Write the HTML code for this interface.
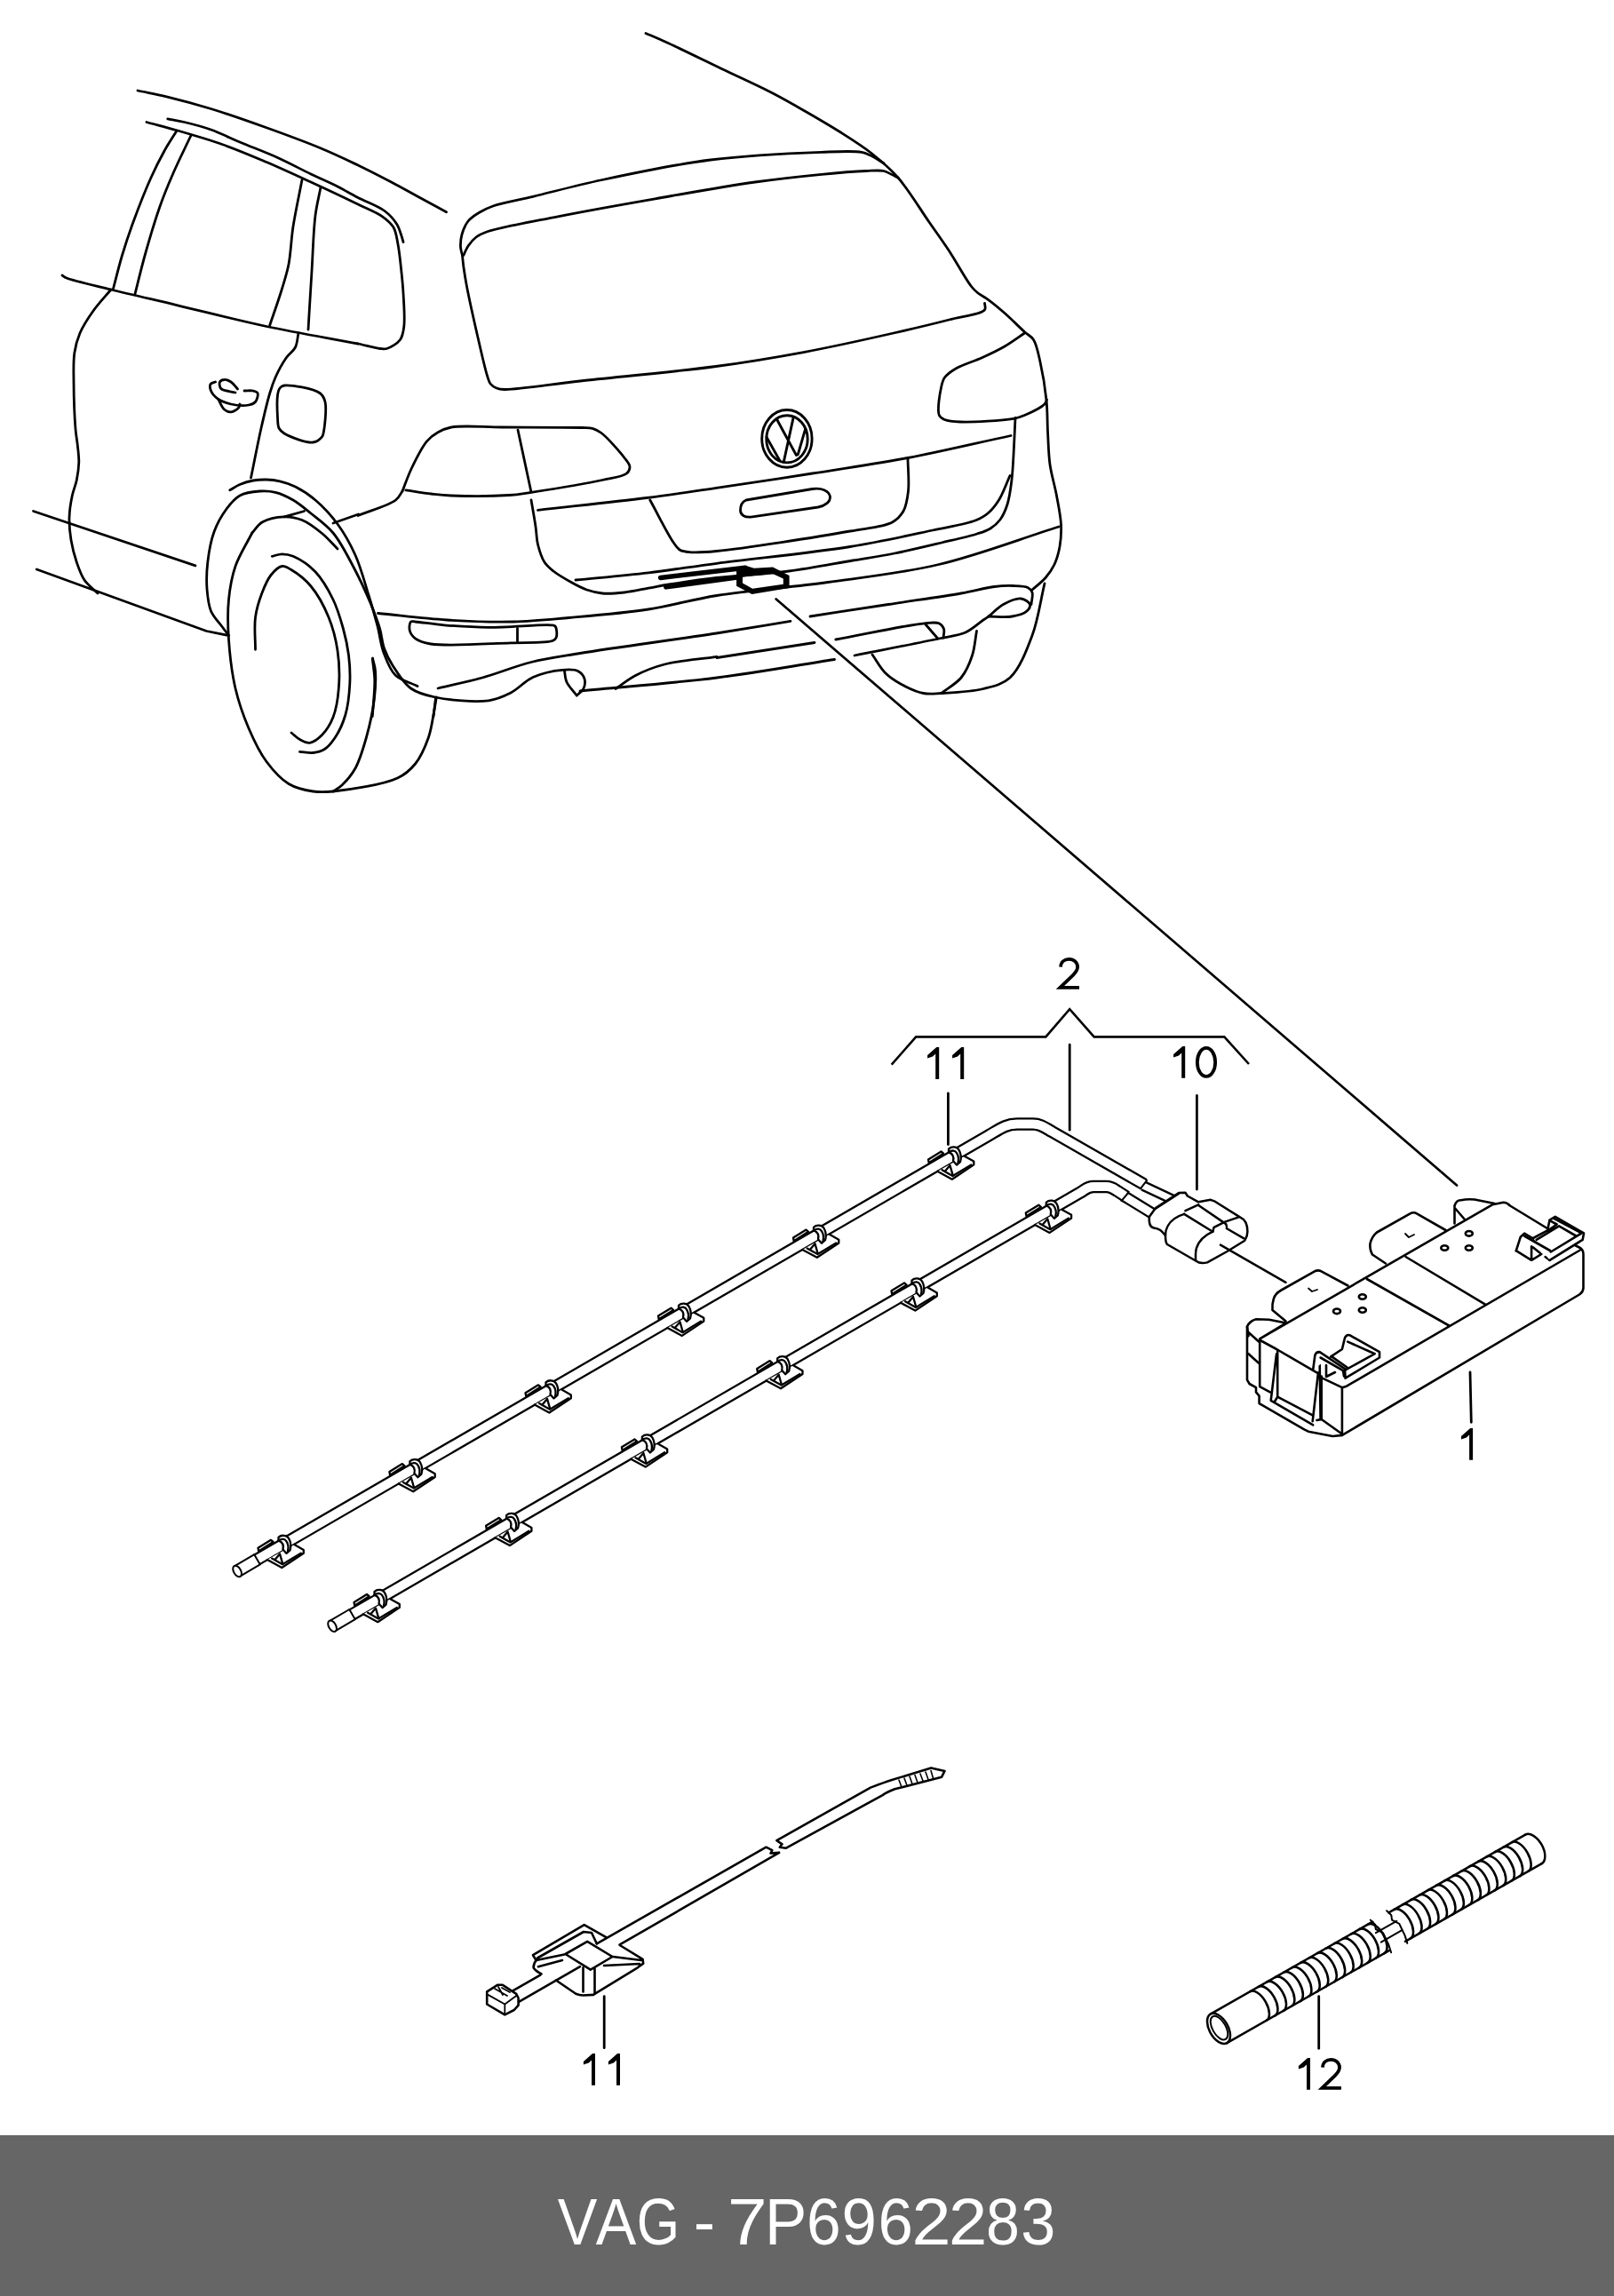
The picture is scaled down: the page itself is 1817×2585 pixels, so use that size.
<!DOCTYPE html>
<html><head><meta charset="utf-8">
<style>
html,body{margin:0;padding:0;background:#fff;}
body{width:1817px;height:2585px;position:relative;overflow:hidden;}
svg{position:absolute;left:0;top:0;}
</style></head><body>
<svg width="1817" height="2585" viewBox="0 0 1817 2585">
<g fill="none" stroke="#000" stroke-linecap="round" stroke-linejoin="round">
<path d="M155.0,102.0C165.8,104.3 175.6,105.9 187.5,108.8C202.4,112.4 220.0,117.1 237.5,122.5C257.3,128.6 279.2,136.3 300.0,143.8C320.9,151.3 344.0,159.8 362.5,167.5C377.6,173.8 389.8,179.7 403.0,186.0C415.8,192.2 429.0,199.0 440.5,205.0C450.4,210.2 458.3,214.7 468.0,220.0C478.8,225.9 491.0,232.5 502.5,238.8" stroke-width="2.8" fill="none"/>
<path d="M188.8,133.8C195.0,135.0 200.6,135.8 207.5,137.5C216.4,139.6 227.4,142.4 237.5,146.0C248.2,149.8 258.4,155.1 270.0,160.0C283.2,165.6 298.9,171.3 312.5,177.5C325.5,183.4 338.2,190.3 350.0,196.0C360.5,201.1 370.7,205.3 380.0,210.0C388.2,214.2 394.8,218.2 403.0,222.5C412.3,227.3 425.3,231.7 433.0,237.5C439.0,242.0 443.6,247.4 446.8,252.5C449.4,256.6 450.5,261.3 451.8,265.0C452.8,267.8 453.3,270.0 454.0,272.5" stroke-width="2.8" fill="none"/>
<path d="M165.0,137.5C176.7,140.7 187.3,143.3 200.0,147.0C215.2,151.4 233.4,156.6 250.0,162.5C266.8,168.4 283.4,175.5 300.0,182.5C316.7,189.6 333.1,197.2 350.0,205.0C367.4,213.0 388.2,222.8 403.0,230.0C413.7,235.2 423.4,238.7 430.5,243.8C435.8,247.6 440.1,251.0 443.0,256.0C446.1,261.3 446.6,267.9 448.0,275.0C449.7,283.8 450.8,295.4 451.8,305.0C452.7,313.7 453.5,320.8 454.0,330.0C454.6,341.2 456.0,357.9 454.8,367.5C454.0,373.7 453.5,378.4 450.5,382.5C447.3,386.9 439.8,391.2 435.5,392.5C432.7,393.3 431.2,392.8 428.0,392.5C422.1,391.9 411.3,388.8 403.0,387.0" stroke-width="2.8" fill="none"/>
<path d="M70.0,310.0C71.7,311.0 72.3,311.9 75.0,313.0C82.9,316.3 106.6,321.4 125.0,326.0C147.4,331.6 173.2,337.4 200.0,343.8C230.9,351.1 266.3,360.3 300.0,367.5C334.0,374.7 368.7,380.5 403.0,387.0" stroke-width="2.8" fill="none"/>
<path d="M198.8,147.5C194.2,155.0 189.5,161.9 185.0,170.0C179.9,179.2 175.1,188.6 170.0,200.0C163.5,214.4 155.7,234.5 150.0,250.0C145.1,263.3 141.3,274.9 137.5,287.5C133.8,299.9 130.8,312.5 127.5,325.0" stroke-width="2.8" fill="none"/>
<path d="M215.0,152.5C208.3,166.7 201.0,181.2 195.0,195.0C189.4,207.8 184.8,218.8 180.0,232.5C174.4,248.4 168.6,268.0 163.8,285.0C159.3,300.8 155.9,315.7 152.0,331.0" stroke-width="2.8" fill="none"/>
<path d="M340.0,202.5C336.7,220.0 332.6,238.4 330.0,255.0C327.7,269.9 327.4,284.9 325.0,297.5C323.0,307.7 320.5,315.0 317.5,325.0C313.8,337.4 308.4,352.3 303.8,366.0" stroke-width="2.8" fill="none"/>
<path d="M361.0,211.0C359.0,221.5 356.6,230.2 355.0,242.5C352.8,259.7 352.3,283.9 351.0,305.0C349.6,326.7 348.3,349.0 347.0,371.0" stroke-width="2.8" fill="none"/>
<path d="M125.0,326.0C118.3,334.0 110.9,341.7 105.0,350.0C99.3,358.0 93.6,366.6 90.0,375.0C86.8,382.5 85.0,389.2 83.8,397.5C82.4,407.3 82.9,417.9 83.0,430.0C83.1,445.5 83.9,469.6 85.0,483.0C85.7,491.3 86.9,496.5 87.5,503.0C88.1,509.0 89.0,514.5 88.8,520.5C88.6,527.0 87.6,534.1 86.3,540.5C85.1,546.6 82.6,551.6 81.3,558.0C79.7,565.5 78.2,574.7 78.0,583.0C77.8,591.3 78.6,599.7 80.0,608.0C81.4,616.4 83.7,625.2 86.3,633.0C88.7,640.1 91.0,647.1 95.0,653.0C98.9,658.8 105.0,663.0 110.0,668.0" stroke-width="2.8" fill="none"/>
<path d="M336.0,375.0C334.8,380.3 334.8,386.4 332.5,391.0C330.3,395.5 325.8,397.8 322.5,402.5C318.2,408.6 313.2,417.8 310.0,425.0C307.3,431.1 305.9,435.4 303.8,442.5C300.6,453.1 297.1,468.4 293.8,483.0C290.0,499.9 286.3,519.7 282.5,538.0" stroke-width="2.8" fill="none"/>
<path d="M242.5,430.0C240.7,430.8 237.9,431.0 237.0,432.5C236.0,434.2 236.5,437.6 237.5,440.0C238.7,443.0 241.7,446.4 245.0,448.8C248.9,451.6 254.5,453.8 260.0,455.0C266.1,456.4 275.0,457.0 280.0,456.0C283.2,455.4 285.8,454.5 287.5,452.5C289.4,450.2 290.9,444.6 290.0,442.5C289.3,441.0 287.0,440.5 285.0,440.0C282.3,439.4 278.3,440.0 275.0,440.0" stroke-width="2.8" fill="none"/>
<path d="M267.5,438.0C265.0,435.3 262.7,431.8 260.0,430.0C257.7,428.5 254.7,427.3 252.5,427.5C250.6,427.6 248.2,428.6 247.5,430.0C246.7,431.7 247.1,435.6 248.8,437.5C251.4,440.3 259.6,440.5 265.0,442.0" stroke-width="2.8" fill="none"/>
<path d="M246.0,450.0C248.2,453.7 249.8,458.7 252.5,461.0C254.7,462.8 257.4,464.0 260.0,463.8C262.9,463.6 267.3,460.7 268.8,458.8C269.8,457.6 269.6,456.3 270.0,455.0" stroke-width="2.8" fill="none"/>
<path d="M320.0,434.0C326.9,432.9 352.9,437.4 360.0,442.5C363.8,445.2 364.9,447.9 366.0,452.5C368.0,460.5 365.3,482.2 364.0,488.0C363.6,490.0 363.5,490.6 362.5,491.8C360.7,493.9 357.0,497.4 352.5,498.0C344.9,499.0 326.3,491.8 320.0,488.0C316.9,486.1 315.3,484.6 314.0,482.0C312.5,478.9 312.8,474.7 312.5,470.0C312.1,463.2 311.6,451.0 312.5,445.0C313.0,441.5 313.5,438.9 315.0,437.0C316.2,435.4 317.4,434.4 320.0,434.0Z" stroke-width="2.8" fill="none"/>
<path d="M37.5,575.5 L220.0,636.8" stroke-width="2.8" fill="none"/>
<path d="M41.3,641.0 L232.5,710.5 L257.5,715.5" stroke-width="2.8" fill="none"/>
<path d="M258.8,551.8C262.5,549.7 265.9,547.2 270.0,545.5C274.5,543.6 279.9,541.9 285.0,541.0C289.9,540.1 295.0,539.9 300.0,540.0C305.0,540.1 309.9,540.6 315.0,541.8C320.7,543.1 326.5,545.0 332.5,548.0C339.7,551.6 347.7,556.7 355.0,563.0C363.6,570.3 372.6,580.0 380.0,590.0C387.7,600.5 394.3,612.3 400.0,625.0C406.2,638.8 410.6,655.9 415.0,670.0C418.8,682.4 422.1,693.7 425.0,705.0C427.7,715.4 428.5,725.7 432.0,735.0C435.3,743.9 438.6,753.7 445.0,760.0C451.3,766.2 461.7,768.3 470.0,772.5" stroke-width="2.8" fill="none"/>
<path d="M257.5,715.5C255.0,712.2 252.8,709.3 250.0,705.5C246.3,700.5 240.3,694.7 237.5,688.0C234.4,680.7 233.7,671.7 233.0,663.0C232.3,653.5 232.6,643.3 233.8,633.0C235.1,621.7 237.4,608.4 241.3,598.0C244.8,588.7 249.8,580.0 255.0,573.0C259.5,567.0 263.9,561.3 270.0,558.0C276.3,554.5 285.4,553.5 292.5,553.0C298.7,552.6 304.1,552.8 310.0,554.3C316.6,555.9 323.5,559.2 330.0,563.0C336.9,567.0 343.1,572.4 350.0,578.0C358.0,584.5 367.5,591.0 375.0,600.0C383.6,610.3 390.5,624.4 397.5,637.5C404.7,651.0 412.2,667.3 417.5,680.0C421.7,690.1 424.9,698.7 427.5,707.5C429.8,715.3 430.0,722.9 432.5,730.0C435.0,737.0 438.1,743.2 442.5,750.0C447.7,758.1 454.3,769.1 462.5,775.0C470.3,780.6 478.9,782.7 490.0,785.0C506.0,788.3 534.5,790.9 550.0,788.8C560.3,787.4 566.9,784.1 575.0,780.0C583.6,775.6 590.7,766.8 600.0,762.5C609.9,758.0 623.7,755.1 633.0,754.3C639.7,753.7 646.2,753.3 650.5,755.5C654.0,757.3 657.0,760.9 658.0,764.3C659.0,767.6 658.3,772.4 656.8,775.5C655.3,778.6 651.8,780.5 649.3,783.0" stroke-width="2.8" fill="none"/>
<path d="M635.5,755.5C636.3,759.7 636.1,763.9 638.0,768.0C640.3,773.0 645.5,778.0 649.3,783.0" stroke-width="2.8" fill="none"/>
<path d="M283.8,600.0C287.5,596.0 290.0,591.0 295.0,588.0C301.3,584.3 312.1,582.0 320.0,581.8C327.0,581.6 333.4,582.8 340.0,585.5C347.6,588.6 355.7,594.9 362.5,600.5C369.0,605.8 374.2,612.2 380.0,618.0" stroke-width="2.8" fill="none"/>
<path d="M283.8,600.0C277.5,612.5 269.4,624.7 265.0,637.5C260.8,649.7 258.8,661.9 257.5,675.0C256.1,689.3 256.4,704.3 257.5,720.0C258.7,737.5 261.0,757.8 265.0,775.0C268.7,790.9 274.0,805.9 280.0,820.0C285.7,833.3 292.0,846.8 300.0,857.5C307.3,867.3 315.7,876.9 325.0,882.5C333.4,887.6 343.7,889.7 352.5,891.0C360.3,892.2 365.4,892.0 375.0,891.0C392.4,889.2 431.4,883.6 447.5,876.0C457.0,871.6 461.9,866.9 467.5,860.0C473.9,852.1 478.9,840.2 482.5,830.0C485.9,820.2 487.2,808.3 488.8,800.0C489.9,794.2 490.5,790.0 491.3,785.0" stroke-width="2.8" fill="none"/>
<path d="M320.0,581.8 L342.5,575.5" stroke-width="2.8" fill="none"/>
<path d="M375.0,589.0 L403.5,579.0" stroke-width="2.8" fill="none"/>
<path d="M375.0,891.0C378.3,888.7 381.6,887.2 385.0,884.0C389.8,879.4 395.7,872.7 400.0,865.0C405.3,855.4 409.0,842.4 412.5,830.0C416.2,816.6 419.7,800.8 421.3,787.5C422.7,776.0 423.2,763.5 422.5,755.0C422.0,749.3 420.5,745.7 419.5,741.0" stroke-width="2.8" fill="none"/>
<path d="M306.3,626.3C310.0,625.5 313.7,623.8 317.5,623.8C321.5,623.8 325.4,624.3 330.0,626.3C337.2,629.4 347.8,636.3 355.0,643.8C363.0,652.1 369.7,664.2 375.0,675.0C380.1,685.4 383.3,696.8 386.3,707.5C389.1,717.6 391.2,727.2 392.5,737.5C393.8,748.1 394.4,759.0 393.8,770.0C393.2,781.5 391.9,794.5 388.8,805.0C386.1,814.2 382.0,823.2 377.5,830.0C373.8,835.6 369.6,840.9 365.0,843.8C361.1,846.2 356.9,847.0 352.5,847.5C347.8,848.0 342.5,846.7 337.5,846.3" stroke-width="2.8" fill="none"/>
<path d="M287.5,731.3C287.5,719.2 286.0,706.2 287.5,695.0C288.8,685.1 291.8,675.8 295.0,667.5C297.8,660.2 300.8,652.7 305.0,647.5C308.5,643.1 313.4,638.1 317.5,637.5C320.9,637.0 323.7,639.1 327.5,641.3C333.8,645.0 343.3,652.1 350.0,660.0C357.8,669.3 365.0,682.8 370.0,695.0C374.9,707.0 378.1,719.5 380.0,732.5C382.0,746.1 382.4,761.8 381.3,775.0C380.4,786.6 378.6,798.3 375.0,807.5C371.9,815.3 367.4,822.5 362.5,827.5C358.4,831.6 353.3,835.7 348.8,836.3C345.0,836.8 341.0,834.4 337.5,832.5C334.0,830.6 331.2,827.5 328.0,825.0" stroke-width="2.8" fill="none"/>
<path d="M727.0,37.5C734.7,40.8 740.5,43.2 750.0,47.5C765.8,54.7 792.1,67.7 812.5,77.5C832.1,86.9 853.2,96.3 870.0,105.0C883.5,112.0 893.7,117.9 906.0,125.0C919.0,132.5 933.2,140.7 946.0,148.8C958.2,156.5 970.1,163.9 981.0,172.5C991.7,181.0 1001.2,188.8 1011.0,200.0C1023.0,213.7 1035.6,235.1 1046.0,250.0C1054.3,262.0 1060.9,271.0 1068.5,282.5C1076.8,295.1 1087.2,314.6 1093.5,322.5C1096.5,326.2 1098.2,327.7 1101.0,330.0C1104.0,332.4 1107.2,333.6 1111.0,336.3C1116.6,340.3 1124.3,346.6 1131.0,352.5C1138.4,359.0 1147.5,368.3 1153.5,373.8C1157.5,377.4 1160.8,378.3 1163.5,382.5C1167.3,388.3 1168.8,398.0 1171.0,407.5C1173.8,419.8 1176.6,436.9 1178.0,450.5C1179.3,462.7 1178.9,473.6 1179.5,485.5C1180.2,497.8 1180.3,510.8 1182.0,523.0C1183.7,534.9 1187.4,546.5 1189.5,558.0C1191.5,569.0 1194.0,580.4 1194.5,590.5C1194.9,599.4 1194.4,607.7 1193.0,615.5C1191.7,622.6 1189.8,629.5 1187.0,635.5C1184.4,641.1 1181.0,645.9 1177.0,650.5C1172.8,655.4 1167.0,659.5 1162.0,664.0" stroke-width="2.8" fill="none"/>
<path d="M995.0,183.8C990.0,180.9 984.6,177.2 980.0,175.0C976.4,173.3 974.6,172.1 970.0,171.3C960.5,169.6 943.7,170.6 925.0,171.3C893.7,172.4 841.3,174.8 800.0,180.0C758.9,185.2 714.0,194.8 678.0,202.5C649.0,208.7 622.5,215.9 600.0,221.3C583.0,225.4 565.8,228.2 555.0,232.0C548.5,234.3 544.7,236.2 540.0,239.0C535.3,241.8 530.3,244.8 527.0,249.0C523.7,253.2 521.4,259.0 520.0,264.0C518.7,268.6 518.3,273.8 518.5,278.0C518.7,281.5 519.8,284.3 520.5,287.5" stroke-width="2.8" fill="none"/>
<path d="M1011.0,200.0C1008.5,198.8 1006.1,197.5 1003.5,196.3C1000.8,195.0 998.5,193.3 995.0,192.5C989.8,191.4 983.2,192.2 975.0,192.5C962.1,193.0 943.3,194.5 925.0,196.3C902.5,198.5 877.5,201.1 850.0,205.0C816.2,209.8 774.7,217.3 737.5,223.8C700.7,230.2 661.6,237.1 628.0,243.8C599.2,249.5 562.7,255.8 548.0,261.0C542.0,263.1 539.5,264.3 536.0,267.0C532.5,269.7 529.4,273.5 527.0,277.0C524.8,280.3 523.5,284.0 521.8,287.5" stroke-width="2.8" fill="none"/>
<path d="M520.5,287.5C520.9,291.7 521.2,295.2 521.8,300.0C522.7,306.4 523.7,313.3 525.5,322.5C528.3,337.3 533.9,362.2 538.0,380.0C541.6,395.4 545.7,414.1 548.5,423.0C549.8,427.2 550.2,429.6 552.0,432.0C553.7,434.2 556.4,435.9 559.0,437.0C561.7,438.1 563.5,438.4 568.0,438.5C581.9,438.9 620.5,432.6 653.0,429.0C696.6,424.2 760.5,418.6 806.0,412.5C842.9,407.5 872.7,402.5 906.0,396.3C939.4,390.0 976.6,381.7 1006.0,375.0C1029.3,369.7 1050.0,364.8 1068.5,360.0C1083.4,356.1 1104.5,354.0 1108.5,348.8C1110.2,346.6 1108.5,343.8 1108.5,341.3" stroke-width="2.8" fill="none"/>
<path d="M453.0,553.0C456.3,544.7 458.9,536.7 463.0,528.0C467.8,518.0 474.4,504.0 480.5,496.8C484.6,492.0 488.4,489.4 493.0,486.8C497.6,484.2 501.2,482.3 508.0,481.0C520.8,478.6 544.2,480.9 565.5,481.0C592.0,481.1 639.0,480.9 655.0,481.5C660.9,481.7 663.3,481.3 667.0,482.3C670.6,483.3 673.2,484.6 677.0,487.5C684.0,492.9 697.6,508.3 703.0,515.5C706.0,519.5 708.8,522.4 709.0,525.5C709.1,528.1 708.0,530.9 705.5,533.0C700.9,536.9 689.6,537.9 678.0,540.5C658.4,544.9 617.1,551.4 598.0,554.3C587.3,555.9 583.3,556.8 573.0,557.5C556.4,558.6 524.0,558.6 508.0,558.0C498.5,557.6 493.4,556.9 485.5,556.0C476.5,554.9 466.4,553.2 456.8,551.8" stroke-width="2.8" fill="none"/>
<path d="M583.0,484.0 L598.0,554.0" stroke-width="2.8" fill="none"/>
<path d="M403.0,580.5C417.2,574.7 437.5,569.2 445.5,563.0C449.7,559.8 450.5,556.3 453.0,553.0" stroke-width="2.8" fill="none"/>
<path d="M598.0,563.0C599.7,573.0 601.7,584.0 603.0,593.0C604.1,600.3 603.9,606.4 605.5,613.0C607.2,619.8 609.6,627.8 613.0,633.0C615.8,637.3 618.9,639.7 623.0,643.0C628.3,647.2 636.5,651.9 643.0,655.5C648.9,658.8 654.5,661.9 660.5,664.0C666.2,666.0 671.6,667.4 678.0,668.0C685.6,668.7 694.5,667.9 703.0,667.0C711.9,666.0 721.4,663.7 730.0,662.1C738.0,660.7 743.7,659.5 753.0,658.0C767.1,655.8 786.8,652.8 806.5,650.5C830.8,647.7 861.7,646.4 888.0,643.0C912.8,639.8 938.6,634.6 960.0,631.0C977.3,628.1 990.9,626.2 1007.0,623.0C1024.2,619.6 1043.6,614.9 1060.0,611.0C1074.3,607.6 1090.0,604.2 1100.0,601.0C1106.3,599.0 1110.6,597.8 1115.0,595.0C1119.2,592.4 1122.9,589.1 1126.0,585.0C1129.4,580.3 1131.9,574.5 1134.0,568.0C1136.6,560.0 1137.8,550.0 1139.0,540.0C1140.4,528.6 1140.8,514.9 1141.5,503.0C1142.1,491.8 1142.5,481.3 1143.0,470.5" stroke-width="2.8" fill="none"/>
<path d="M605.5,574.3C646.3,569.7 691.7,565.1 728.0,560.5C757.1,556.8 778.3,553.4 806.5,549.3C839.6,544.4 878.6,538.6 914.5,533.0C950.4,527.4 985.6,522.4 1022.0,515.5C1060.0,508.3 1099.3,498.8 1138.0,490.5" stroke-width="2.8" fill="none"/>
<path d="M731.8,563.0C740.5,578.8 751.5,601.2 758.0,610.5C761.0,614.8 762.3,617.4 765.5,619.3C768.9,621.3 773.0,621.4 778.0,621.8C785.5,622.4 793.3,621.8 806.5,620.5C837.0,617.5 921.0,604.5 957.0,598.0C977.3,594.3 994.2,593.6 1004.5,588.0C1010.7,584.6 1014.0,580.8 1017.0,575.5C1020.4,569.5 1021.5,561.5 1022.5,553.0C1023.7,542.4 1022.2,528.9 1022.0,516.8" stroke-width="2.8" fill="none"/>
<path d="M648.0,653.0C675.3,650.3 703.1,648.0 730.0,644.8C756.1,641.7 777.1,638.2 807.0,634.3C848.7,628.8 913.1,622.6 957.0,615.5C991.8,609.9 1024.1,602.5 1050.0,597.0C1068.7,593.0 1087.0,590.3 1098.0,586.0C1104.3,583.5 1107.8,581.6 1112.0,578.0C1116.7,574.1 1120.7,569.1 1124.5,563.0C1129.2,555.5 1132.8,544.7 1137.0,535.5" stroke-width="2.8" fill="none"/>
<path d="M1153.5,375.0C1146.0,380.0 1138.8,385.4 1131.0,390.0C1123.0,394.6 1114.8,398.5 1106.0,402.5C1096.5,406.8 1083.6,410.5 1076.0,415.0C1070.7,418.2 1066.2,421.3 1063.5,425.0C1061.3,428.1 1060.8,430.6 1059.8,435.0C1058.1,442.6 1054.8,461.7 1057.3,467.5C1058.5,470.4 1060.7,471.3 1063.5,472.5C1067.7,474.3 1073.4,474.7 1081.0,475.0C1095.0,475.6 1128.5,473.5 1141.0,471.3C1146.8,470.3 1148.8,469.5 1153.5,467.5C1160.0,464.7 1172.4,458.8 1176.0,455.0C1177.7,453.2 1177.7,451.7 1178.5,450.0" stroke-width="2.8" fill="none"/>
<path d="M425.5,690.5C451.3,693.0 477.4,696.4 503.0,698.0C528.2,699.6 554.2,700.5 578.0,700.0C599.8,699.5 617.8,697.5 640.5,695.5C667.7,693.1 701.4,690.4 730.0,686.0C756.7,681.9 778.1,675.1 807.0,670.5C843.5,664.6 890.4,661.3 932.0,655.5C973.7,649.7 1014.9,645.4 1057.0,635.5C1101.5,625.0 1147.0,607.2 1192.0,593.0" stroke-width="2.8" fill="none"/>
<path d="M462.5,700.0C460.9,701.4 460.5,706.9 461.3,710.0C462.1,713.2 464.4,716.5 467.5,718.8C471.6,721.9 476.7,723.6 485.0,725.0C503.2,728.0 549.8,724.6 575.0,723.8C593.3,723.2 615.7,724.3 622.5,721.3C624.8,720.3 625.6,719.3 626.3,717.5C627.3,714.7 626.8,707.0 625.0,705.0C623.9,703.7 622.7,704.1 620.0,703.8C610.2,702.8 571.4,706.5 550.0,706.3C531.9,706.2 514.9,705.0 500.0,703.8C488.0,702.8 473.6,700.4 467.5,700.0C465.1,699.9 463.6,699.0 462.5,700.0Z" stroke-width="2.8" fill="none"/>
<path d="M582.5,707.5 L582.5,722.5" stroke-width="2.8" fill="none"/>
<path d="M493.0,775.0C509.7,771.0 526.0,767.7 543.0,763.0C561.0,758.0 579.5,750.1 598.0,745.5C616.2,741.0 630.0,739.3 653.0,735.5C691.3,729.2 763.1,719.7 806.5,713.0C838.5,708.0 862.1,703.9 889.9,699.3" stroke-width="2.8" fill="none"/>
<path d="M912.0,694.0C941.3,689.5 971.2,684.9 1000.0,680.5C1027.8,676.2 1060.0,671.9 1082.0,668.0C1097.0,665.4 1108.8,661.8 1119.5,660.5C1127.3,659.5 1133.5,659.3 1140.0,659.5C1145.9,659.7 1153.2,659.6 1157.0,661.5C1159.5,662.8 1161.1,664.5 1162.0,667.0C1163.2,670.3 1161.3,676.0 1161.0,680.5" stroke-width="2.8" fill="none"/>
<path d="M1113.0,694.0C1118.5,689.5 1123.4,683.8 1129.5,680.5C1135.6,677.2 1144.1,673.3 1149.5,674.0C1153.6,674.5 1158.7,677.9 1159.5,680.5C1160.1,682.7 1158.2,686.0 1156.0,688.0C1152.8,691.0 1145.8,692.9 1139.5,694.0C1131.8,695.4 1121.8,694.0 1113.0,694.0" stroke-width="2.8" fill="none"/>
<path d="M940.8,720.0C974.1,713.9 1021.6,703.5 1040.8,701.8C1048.5,701.1 1053.3,700.1 1057.0,701.8C1059.7,703.0 1061.6,705.5 1062.5,708.0C1063.5,710.8 1062.2,714.7 1062.0,718.0" stroke-width="2.8" fill="none"/>
<path d="M1042.0,703.0 L1055.8,719.0" stroke-width="2.8" fill="none"/>
<path d="M807.0,740.5 L917.0,723.5" stroke-width="2.8" fill="none"/>
<path d="M693.0,775.5C700.5,770.5 707.0,764.9 715.5,760.5C725.1,755.5 735.3,751.3 748.0,748.0C764.6,743.7 787.3,742.2 807.0,739.3" stroke-width="2.8" fill="none"/>
<path d="M962.0,738.0C993.7,731.7 1034.2,723.9 1057.0,719.0C1069.8,716.2 1078.3,715.9 1087.0,712.0C1094.7,708.6 1101.9,701.5 1107.0,698.0C1110.1,695.9 1112.0,694.7 1114.5,693.0" stroke-width="2.8" fill="none"/>
<path d="M653.0,778.0C704.3,773.0 757.7,769.2 807.0,763.0C852.9,757.2 895.3,749.3 939.5,742.5" stroke-width="2.8" fill="none"/>
<path d="M982.0,737.0C987.0,744.0 990.9,752.0 997.0,758.0C1003.3,764.1 1012.0,769.2 1019.5,773.0C1026.2,776.4 1032.7,779.3 1039.5,780.5C1046.1,781.7 1051.4,780.9 1059.5,780.5C1072.0,779.8 1093.2,779.0 1107.0,775.5C1118.4,772.6 1128.5,770.7 1137.0,763.0C1147.9,753.1 1155.6,732.6 1162.0,715.5C1168.8,697.4 1171.3,676.4 1176.0,656.8" stroke-width="2.8" fill="none"/>
<path d="M1099.5,710.5C1097.8,719.7 1097.4,729.2 1094.5,738.0C1091.6,746.8 1087.8,755.9 1082.0,763.0C1076.2,770.1 1067.0,774.7 1059.5,780.5" stroke-width="2.8" fill="none"/>
<path d="M419.3,741.8C420.1,749.7 421.6,756.5 421.8,765.5C422.1,777.3 420.1,792.8 419.3,806.5" stroke-width="2.8" fill="none"/>
<path d="M490.5,785.5 L488.0,806.5" stroke-width="2.8" fill="none"/>
<path d="M873.7,674.5 L1640.0,1334.5" stroke-width="2.7" fill="none"/>
<path d="M743.6,650.4 L839.0,639.2" stroke-width="5.5" fill="none"/>
<path d="M749.8,660.9 L831.6,649.7" stroke-width="5.5" fill="none"/>
<path d="M840,563 L914.5,550.5 C925,549 933,552.5 934.5,559 C935,565 929,569.5 921,571 L847,581.8 C838.5,583 833.5,580 833.5,574.5 C833.5,569 835.5,565 840,563 Z" stroke-width="2.8"/>
<path d="M829.1,642.9 L839,636.7 L849,639.8 L870,638.6 L888.6,647.9 L888.6,662.1 L846.5,669 L829.1,659.7Z M836,649.7 L868.8,645.4 L881.8,651.6 L881.8,657.8 L847.1,662.8 L836,656.6Z" fill="#000" fill-rule="evenodd" stroke="none"/>
<g stroke-width="2.9"><ellipse cx="885.9" cy="493.9" rx="28.2" ry="32.4"/><ellipse cx="886" cy="494.3" rx="23.2" ry="26.6"/><path d="M874.6,472.2 L896.5,512.6 M893.2,469.9 L882.5,519.1 M863,492.2 L877.9,518.7 M906.7,482.9 L898.3,511.7"/></g>
<path d="M289,1756.1 L1112,1279.0 C1125,1271.5 1132,1265.5 1145,1265.5 L1163,1265.5 C1172,1265.5 1177,1270 1185,1274.5 L1288,1333.5" stroke-width="14.5" stroke-linecap="butt"/><path d="M289,1756.1 L1112,1279.0 C1125,1271.5 1132,1265.5 1145,1265.5 L1163,1265.5 C1172,1265.5 1177,1270 1185,1274.5 L1288,1333.5" stroke="#fff" stroke-width="9.9" stroke-linecap="butt"/>
<path d="M396,1817.9 L1215,1343.3 C1222,1339.2 1224,1336 1231,1336 L1246,1336 C1251,1336 1253,1337.8 1258,1341 L1268,1347.5" stroke-width="14.5" stroke-linecap="butt"/><path d="M396,1817.9 L1215,1343.3 C1222,1339.2 1224,1336 1231,1336 L1246,1336 C1251,1336 1253,1337.8 1258,1341 L1268,1347.5" stroke="#fff" stroke-width="9.9" stroke-linecap="butt"/>
<path d="M1287,1335 L1321,1351" stroke-width="12" stroke-linecap="butt"/><path d="M1287,1335 L1321,1351" stroke="#fff" stroke-width="7.4" stroke-linecap="butt"/>
<path d="M1266,1347 L1310,1374" stroke-width="13.5" stroke-linecap="butt"/><path d="M1266,1347 L1310,1374" stroke="#fff" stroke-width="8.9" stroke-linecap="butt"/>
<path d="M1284.8,1337.2 L1291,1329.1 M1262.5,1352 L1269.9,1343.4" stroke-width="2"/>
<path d="M270.4,1774.6 L292.8,1761.4 L286.3,1750.2 L263.8,1763.4" fill="#fff" stroke-width="2"/>
<ellipse cx="267.1" cy="1769.0" rx="4" ry="6.8" transform="rotate(-30.4 267.1 1769.0)" fill="#fff" stroke-width="2"/>
<path d="M377.4,1836.3 L399.8,1823.2 L393.3,1812.0 L370.8,1825.1" fill="#fff" stroke-width="2"/>
<ellipse cx="374.1" cy="1830.7" rx="4" ry="6.8" transform="rotate(-30.4 374.1 1830.7)" fill="#fff" stroke-width="2"/>
<g transform="translate(319.5,1738.4)" stroke-width="2.3">
<path d="M-18.6,17.7 L-2.2,26.6 L22.3,10.3 L22.3,6.5 L11.9,0.6" fill="#fff"/>
<path d="M-13.4,16.2 L-1.5,22.9 L19.3,10.3"/>
<path d="M-10,17.5 L-4.5,11 L-1.5,21.5"/>
<path d="M-6,-7.5 C-3,-10.5 3,-10.5 5.5,-6.5 C7.5,-3 8.5,2 7,7 L3,10.5 L-1,6 C0,2 -1,-2 -6,-4 Z" fill="#fff"/>
<path d="M-6,-4 C-2,-6.5 1.5,-6 3,-3 C5,0 5.5,4 4.5,8"/>
<path d="M-29,4.3 L-14.5,-4.6 L-11.9,-2.4 L-28.3,8Z"/>
</g>
<g transform="translate(467.4,1652.7)" stroke-width="2.3">
<path d="M-18.6,17.7 L-2.2,26.6 L22.3,10.3 L22.3,6.5 L11.9,0.6" fill="#fff"/>
<path d="M-13.4,16.2 L-1.5,22.9 L19.3,10.3"/>
<path d="M-10,17.5 L-4.5,11 L-1.5,21.5"/>
<path d="M-6,-7.5 C-3,-10.5 3,-10.5 5.5,-6.5 C7.5,-3 8.5,2 7,7 L3,10.5 L-1,6 C0,2 -1,-2 -6,-4 Z" fill="#fff"/>
<path d="M-6,-4 C-2,-6.5 1.5,-6 3,-3 C5,0 5.5,4 4.5,8"/>
<path d="M-29,4.3 L-14.5,-4.6 L-11.9,-2.4 L-28.3,8Z"/>
</g>
<g transform="translate(620.5,1563.9)" stroke-width="2.3">
<path d="M-18.6,17.7 L-2.2,26.6 L22.3,10.3 L22.3,6.5 L11.9,0.6" fill="#fff"/>
<path d="M-13.4,16.2 L-1.5,22.9 L19.3,10.3"/>
<path d="M-10,17.5 L-4.5,11 L-1.5,21.5"/>
<path d="M-6,-7.5 C-3,-10.5 3,-10.5 5.5,-6.5 C7.5,-3 8.5,2 7,7 L3,10.5 L-1,6 C0,2 -1,-2 -6,-4 Z" fill="#fff"/>
<path d="M-6,-4 C-2,-6.5 1.5,-6 3,-3 C5,0 5.5,4 4.5,8"/>
<path d="M-29,4.3 L-14.5,-4.6 L-11.9,-2.4 L-28.3,8Z"/>
</g>
<g transform="translate(770.0,1477.3)" stroke-width="2.3">
<path d="M-18.6,17.7 L-2.2,26.6 L22.3,10.3 L22.3,6.5 L11.9,0.6" fill="#fff"/>
<path d="M-13.4,16.2 L-1.5,22.9 L19.3,10.3"/>
<path d="M-10,17.5 L-4.5,11 L-1.5,21.5"/>
<path d="M-6,-7.5 C-3,-10.5 3,-10.5 5.5,-6.5 C7.5,-3 8.5,2 7,7 L3,10.5 L-1,6 C0,2 -1,-2 -6,-4 Z" fill="#fff"/>
<path d="M-6,-4 C-2,-6.5 1.5,-6 3,-3 C5,0 5.5,4 4.5,8"/>
<path d="M-29,4.3 L-14.5,-4.6 L-11.9,-2.4 L-28.3,8Z"/>
</g>
<g transform="translate(922.0,1389.2)" stroke-width="2.3">
<path d="M-18.6,17.7 L-2.2,26.6 L22.3,10.3 L22.3,6.5 L11.9,0.6" fill="#fff"/>
<path d="M-13.4,16.2 L-1.5,22.9 L19.3,10.3"/>
<path d="M-10,17.5 L-4.5,11 L-1.5,21.5"/>
<path d="M-6,-7.5 C-3,-10.5 3,-10.5 5.5,-6.5 C7.5,-3 8.5,2 7,7 L3,10.5 L-1,6 C0,2 -1,-2 -6,-4 Z" fill="#fff"/>
<path d="M-6,-4 C-2,-6.5 1.5,-6 3,-3 C5,0 5.5,4 4.5,8"/>
<path d="M-29,4.3 L-14.5,-4.6 L-11.9,-2.4 L-28.3,8Z"/>
</g>
<g transform="translate(1074.0,1301.1)" stroke-width="2.3">
<path d="M-18.6,17.7 L-2.2,26.6 L22.3,10.3 L22.3,6.5 L11.9,0.6" fill="#fff"/>
<path d="M-13.4,16.2 L-1.5,22.9 L19.3,10.3"/>
<path d="M-10,17.5 L-4.5,11 L-1.5,21.5"/>
<path d="M-6,-7.5 C-3,-10.5 3,-10.5 5.5,-6.5 C7.5,-3 8.5,2 7,7 L3,10.5 L-1,6 C0,2 -1,-2 -6,-4 Z" fill="#fff"/>
<path d="M-6,-4 C-2,-6.5 1.5,-6 3,-3 C5,0 5.5,4 4.5,8"/>
<path d="M-29,4.3 L-14.5,-4.6 L-11.9,-2.4 L-28.3,8Z"/>
</g>
<g transform="translate(427.5,1799.6)" stroke-width="2.3">
<path d="M-18.6,17.7 L-2.2,26.6 L22.3,10.3 L22.3,6.5 L11.9,0.6" fill="#fff"/>
<path d="M-13.4,16.2 L-1.5,22.9 L19.3,10.3"/>
<path d="M-10,17.5 L-4.5,11 L-1.5,21.5"/>
<path d="M-6,-7.5 C-3,-10.5 3,-10.5 5.5,-6.5 C7.5,-3 8.5,2 7,7 L3,10.5 L-1,6 C0,2 -1,-2 -6,-4 Z" fill="#fff"/>
<path d="M-6,-4 C-2,-6.5 1.5,-6 3,-3 C5,0 5.5,4 4.5,8"/>
<path d="M-29,4.3 L-14.5,-4.6 L-11.9,-2.4 L-28.3,8Z"/>
</g>
<g transform="translate(576.1,1713.5)" stroke-width="2.3">
<path d="M-18.6,17.7 L-2.2,26.6 L22.3,10.3 L22.3,6.5 L11.9,0.6" fill="#fff"/>
<path d="M-13.4,16.2 L-1.5,22.9 L19.3,10.3"/>
<path d="M-10,17.5 L-4.5,11 L-1.5,21.5"/>
<path d="M-6,-7.5 C-3,-10.5 3,-10.5 5.5,-6.5 C7.5,-3 8.5,2 7,7 L3,10.5 L-1,6 C0,2 -1,-2 -6,-4 Z" fill="#fff"/>
<path d="M-6,-4 C-2,-6.5 1.5,-6 3,-3 C5,0 5.5,4 4.5,8"/>
<path d="M-29,4.3 L-14.5,-4.6 L-11.9,-2.4 L-28.3,8Z"/>
</g>
<g transform="translate(728.9,1625.0)" stroke-width="2.3">
<path d="M-18.6,17.7 L-2.2,26.6 L22.3,10.3 L22.3,6.5 L11.9,0.6" fill="#fff"/>
<path d="M-13.4,16.2 L-1.5,22.9 L19.3,10.3"/>
<path d="M-10,17.5 L-4.5,11 L-1.5,21.5"/>
<path d="M-6,-7.5 C-3,-10.5 3,-10.5 5.5,-6.5 C7.5,-3 8.5,2 7,7 L3,10.5 L-1,6 C0,2 -1,-2 -6,-4 Z" fill="#fff"/>
<path d="M-6,-4 C-2,-6.5 1.5,-6 3,-3 C5,0 5.5,4 4.5,8"/>
<path d="M-29,4.3 L-14.5,-4.6 L-11.9,-2.4 L-28.3,8Z"/>
</g>
<g transform="translate(881.2,1536.7)" stroke-width="2.3">
<path d="M-18.6,17.7 L-2.2,26.6 L22.3,10.3 L22.3,6.5 L11.9,0.6" fill="#fff"/>
<path d="M-13.4,16.2 L-1.5,22.9 L19.3,10.3"/>
<path d="M-10,17.5 L-4.5,11 L-1.5,21.5"/>
<path d="M-6,-7.5 C-3,-10.5 3,-10.5 5.5,-6.5 C7.5,-3 8.5,2 7,7 L3,10.5 L-1,6 C0,2 -1,-2 -6,-4 Z" fill="#fff"/>
<path d="M-6,-4 C-2,-6.5 1.5,-6 3,-3 C5,0 5.5,4 4.5,8"/>
<path d="M-29,4.3 L-14.5,-4.6 L-11.9,-2.4 L-28.3,8Z"/>
</g>
<g transform="translate(1032.5,1449.0)" stroke-width="2.3">
<path d="M-18.6,17.7 L-2.2,26.6 L22.3,10.3 L22.3,6.5 L11.9,0.6" fill="#fff"/>
<path d="M-13.4,16.2 L-1.5,22.9 L19.3,10.3"/>
<path d="M-10,17.5 L-4.5,11 L-1.5,21.5"/>
<path d="M-6,-7.5 C-3,-10.5 3,-10.5 5.5,-6.5 C7.5,-3 8.5,2 7,7 L3,10.5 L-1,6 C0,2 -1,-2 -6,-4 Z" fill="#fff"/>
<path d="M-6,-4 C-2,-6.5 1.5,-6 3,-3 C5,0 5.5,4 4.5,8"/>
<path d="M-29,4.3 L-14.5,-4.6 L-11.9,-2.4 L-28.3,8Z"/>
</g>
<g transform="translate(1183.8,1361.3)" stroke-width="2.3">
<path d="M-18.6,17.7 L-2.2,26.6 L22.3,10.3 L22.3,6.5 L11.9,0.6" fill="#fff"/>
<path d="M-13.4,16.2 L-1.5,22.9 L19.3,10.3"/>
<path d="M-10,17.5 L-4.5,11 L-1.5,21.5"/>
<path d="M-6,-7.5 C-3,-10.5 3,-10.5 5.5,-6.5 C7.5,-3 8.5,2 7,7 L3,10.5 L-1,6 C0,2 -1,-2 -6,-4 Z" fill="#fff"/>
<path d="M-6,-4 C-2,-6.5 1.5,-6 3,-3 C5,0 5.5,4 4.5,8"/>
<path d="M-29,4.3 L-14.5,-4.6 L-11.9,-2.4 L-28.3,8Z"/>
</g><g stroke-width="2.5">
<path d="M1327,1343 L1334.4,1342.7 L1336.8,1346.5 L1349.2,1353.3 L1362.9,1350.8 L1367.8,1352.7 L1396.3,1370.6 C1402,1373 1404.4,1380 1404.4,1386.7 C1404.4,1391 1403,1394 1401.3,1396.7 L1381.4,1409 L1359.1,1421.4 C1354,1422.5 1350,1422.5 1347,1420 L1314,1401 C1312,1399 1312,1395 1312,1391 C1308,1386 1305,1383 1299,1382.4 C1295,1382 1293.3,1378 1293.8,1370 L1301,1360 Z" fill="#fff"/>
<path d="M1365.3,1386.7 L1366.6,1381.8 L1379,1375.6 L1393.8,1370.6"/>
<path d="M1333.1,1366.9 L1365.3,1386.7"/>
<path d="M1349.2,1357 L1380.2,1378.1 L1381,1381"/>
<path d="M1334.4,1363.2 L1349.2,1356.4"/>
<path d="M1365.3,1386.7 C1358,1390 1350,1396 1347,1405 C1345.5,1410 1346,1415 1346.1,1419"/>
<path d="M1333.1,1366.9 C1326,1369 1318,1374 1314.5,1380.5 C1312.5,1384 1312,1387 1312,1391"/>
<path d="M1300.9,1360.7 L1326.9,1344"/>
<path d="M1380.8,1383 L1400,1394.2"/>
</g>
<path d="M1374,1401.6 L1447.5,1443.8" stroke-width="2.5"/>
<path d="M1347.4,1233.5 L1347.4,1339" stroke-width="2.8"/>
<path d="M1067.4,1231 L1067.4,1288.5" stroke-width="2.8"/>
<path d="M1204.2,1176.1 L1204.2,1272.2" stroke-width="2.8"/>
<path d="M1003.7,1198.6 L1031.2,1167.4 L1177.3,1167.4 L1204.2,1136.2 L1231.7,1167.4 L1378.3,1167.4 L1406,1198" stroke-width="2.6" stroke-linecap="butt" stroke-linejoin="miter"/>
<g stroke-width="2.6">
<path d="M1447.5,1487.5 L1432.5,1475 C1432,1470 1433,1465 1433.8,1462.5 C1435,1458 1438,1455 1442.5,1452.5 L1480,1431.3 C1483,1430 1485,1430 1487.5,1431.3 L1517.5,1447.5" fill="#fff"/>
<path d="M1473,1450.5 L1477,1454 L1483,1452" stroke-width="1.8"/>
<path d="M1560,1422.5 L1545,1412.5 C1542.5,1408 1542,1404 1542.5,1400 C1544,1394 1547,1390 1550,1387.5 L1587.5,1366.3 C1590,1365 1593,1365 1595,1366.3 L1627.5,1385" fill="#fff"/>
<path d="M1582,1389 L1586,1393 L1592,1390" stroke-width="1.8"/>
<path d="M1637.5,1377.5 L1637.5,1357.5 C1639,1353 1642,1351 1645,1351.3 C1650,1350 1655,1350 1660,1350.5 L1682.5,1355" fill="#fff"/>
<path d="M1638.6,1361 L1649,1373"/>
<path d="M1418.2,1507.4 L1680,1356.3 L1692.5,1353.8 C1696,1353.8 1698,1355.5 1700,1357.5 L1773.1,1402 L1778,1404.5 C1781,1406 1782.5,1408 1782.5,1412 L1782.5,1450 C1782.5,1453 1781,1455.5 1778,1457.5 L1510.9,1615.9 L1500.3,1617 L1472.9,1611.7 L1468.7,1609.6 L1420.3,1581.6 L1417.6,1580.1 L1417.6,1571.6 L1414,1567.4 L1414,1562.2 L1406.6,1558 L1404,1553.7 L1404,1493.7 C1405,1490 1410,1486 1414,1485.3 L1428.7,1485.8 L1447.7,1489.5 Z" fill="#fff"/>
<path d="M1405.5,1500 L1417.1,1510.5 M1405.5,1524.2 L1417.1,1534.8 M1404,1493.7 L1405.5,1504.2"/>
<path d="M1418.2,1508.4 L1418.2,1561.1 L1429.8,1567.4"/>
<path d="M1418.7,1509 L1437.1,1519 L1482.4,1545.3"/>
<path d="M1438.2,1520 L1438.2,1571.6 M1430.8,1575.8 L1437.1,1524.2"/>
<path d="M1435,1578 L1438.2,1572.7 L1477.2,1593.2 M1430.8,1576.9 L1478.2,1604.3"/>
<path d="M1477.7,1600.1 L1484,1545.3 M1485.6,1528.5 L1486.6,1598"/>
<path d="M1510.9,1563.2 L1510.9,1615.9 M1487.7,1549.5 L1487.7,1598 M1482.4,1599 L1487.7,1598 L1509.8,1613.8"/>
<path d="M1486.6,1550.6 L1510.9,1562.2 L1515.1,1561.1 L1778.8,1407.5"/>
<path d="M1538.8,1440 L1631.3,1492.5 M1582.5,1415 L1672.5,1468.8"/>
<path d="M1478.2,1542.1 L1480.3,1526.3 C1481,1523 1483,1522 1485.6,1522.1 L1514,1541.1 L1514.5,1551.6 L1553,1528.5 L1553,1522.1 L1519.3,1503.2 C1517,1502.5 1515,1504 1514,1506.3 L1510.9,1519 L1498.2,1527.4" fill="#fff"/>
<path d="M1517.2,1510.6 L1547.7,1524.2 L1515.1,1542.1 M1486.6,1528.5 L1512,1543.2 L1513,1549.5 M1499.3,1527.4 L1517.2,1540 M1493,1537 L1493,1550 L1503,1545"/>
<path d="M1706.8,1408.2 L1711.7,1392.8 L1716.1,1388.7 L1744.6,1405.5 L1744.6,1418.8 L1739.6,1415" fill="#fff"/>
<path d="M1706.8,1408.2 L1724.1,1418.8 L1735.3,1412 M1724.1,1403.3 L1724.1,1418.8 M1726,1404.5 L1733.8,1410.8"/>
<path d="M1744.6,1418.8 L1781.7,1395.8 L1783,1388.4 L1750.8,1369.8 L1744.6,1373.5 L1742.1,1385.3 L1726,1394" fill="#fff"/>
<path d="M1748.9,1371.7 L1780.5,1388.4 L1745.8,1409.5 M1729.7,1395.8 L1755.1,1380.4 L1774.3,1391.5 M1716,1391.5 L1745,1408 M1744.6,1374.2 L1752.6,1378.5 L1742.1,1385.9"/>
<ellipse cx="1505" cy="1476.3" rx="4" ry="2.8"/><ellipse cx="1533.8" cy="1475" rx="4" ry="2.8"/><ellipse cx="1533.8" cy="1460" rx="4" ry="2.8"/>
<ellipse cx="1626.3" cy="1405" rx="4" ry="2.8"/><ellipse cx="1653.8" cy="1405" rx="4" ry="2.8"/><ellipse cx="1653.8" cy="1388.8" rx="4" ry="2.8"/>
</g>
<path d="M1655,1545 L1656.3,1601.3" stroke-width="2.8"/>
<path d="M1362.7,2267.7 L1545.2,2163.7 M1381.3,2300.1 L1563.7,2196.2" stroke-width="2.5"/>
<path d="M1563.4,2153.3 L1717.2,2065.6 M1581.9,2185.8 L1735.7,2098.1" stroke-width="2.5"/>
<path d="M1548.9,2176.2 L1572.3,2162.8 M1554.8,2186.6 L1578.3,2173.2" stroke-width="2"/>
<ellipse cx="1372" cy="2283.9" rx="10.5" ry="18.7" transform="rotate(-29.7 1372 2283.9)" fill="#fff" stroke-width="2.5"/>
<ellipse cx="1372.8" cy="2283.5" rx="7.5" ry="14.7" transform="rotate(-29.7 1372 2283.9)" stroke-width="2"/>
<path d="M1717.2,2065.6 A10.5,18.7 -29.7 0 1 1735.7,2098.1" stroke-width="2.5"/>
<path d="M1407.4,2242.2 A9.5,18.7 -29.7 0 1 1425.9,2274.7" stroke-width="2.6"/>
<path d="M1416.9,2236.8 A9.5,18.7 -29.7 0 1 1435.4,2269.3" stroke-width="2.6"/>
<path d="M1426.3,2231.4 A9.5,18.7 -29.7 0 1 1444.9,2263.9" stroke-width="2.6"/>
<path d="M1435.8,2226.0 A9.5,18.7 -29.7 0 1 1454.3,2258.5" stroke-width="2.6"/>
<path d="M1445.3,2220.6 A9.5,18.7 -29.7 0 1 1463.8,2253.1" stroke-width="2.6"/>
<path d="M1454.7,2215.2 A9.5,18.7 -29.7 0 1 1473.3,2247.7" stroke-width="2.6"/>
<path d="M1464.2,2209.8 A9.5,18.7 -29.7 0 1 1482.7,2242.3" stroke-width="2.6"/>
<path d="M1473.7,2204.4 A9.5,18.7 -29.7 0 1 1492.2,2236.9" stroke-width="2.6"/>
<path d="M1483.2,2199.0 A9.5,18.7 -29.7 0 1 1501.7,2231.5" stroke-width="2.6"/>
<path d="M1492.6,2193.6 A9.5,18.7 -29.7 0 1 1511.1,2226.1" stroke-width="2.6"/>
<path d="M1502.1,2188.2 A9.5,18.7 -29.7 0 1 1520.6,2220.7" stroke-width="2.6"/>
<path d="M1511.6,2182.8 A9.5,18.7 -29.7 0 1 1530.1,2215.3" stroke-width="2.6"/>
<path d="M1521.0,2177.4 A9.5,18.7 -29.7 0 1 1539.6,2209.9" stroke-width="2.6"/>
<path d="M1530.5,2172.0 A9.5,18.7 -29.7 0 1 1549.0,2204.5" stroke-width="2.6"/>
<path d="M1540.0,2166.6 A9.5,18.7 -29.7 0 1 1558.5,2199.1" stroke-width="2.6"/>
<path d="M1569.5,2149.8 A9.5,18.7 -29.7 0 1 1588.0,2182.3" stroke-width="2.6"/>
<path d="M1579.0,2144.4 A9.5,18.7 -29.7 0 1 1597.5,2176.9" stroke-width="2.6"/>
<path d="M1588.4,2139.0 A9.5,18.7 -29.7 0 1 1607.0,2171.5" stroke-width="2.6"/>
<path d="M1597.9,2133.6 A9.5,18.7 -29.7 0 1 1616.4,2166.1" stroke-width="2.6"/>
<path d="M1607.4,2128.2 A9.5,18.7 -29.7 0 1 1625.9,2160.7" stroke-width="2.6"/>
<path d="M1616.9,2122.8 A9.5,18.7 -29.7 0 1 1635.4,2155.3" stroke-width="2.6"/>
<path d="M1626.3,2117.4 A9.5,18.7 -29.7 0 1 1644.8,2149.9" stroke-width="2.6"/>
<path d="M1635.8,2112.0 A9.5,18.7 -29.7 0 1 1654.3,2144.5" stroke-width="2.6"/>
<path d="M1645.3,2106.6 A9.5,18.7 -29.7 0 1 1663.8,2139.1" stroke-width="2.6"/>
<path d="M1654.7,2101.2 A9.5,18.7 -29.7 0 1 1673.3,2133.7" stroke-width="2.6"/>
<path d="M1664.2,2095.8 A9.5,18.7 -29.7 0 1 1682.7,2128.3" stroke-width="2.6"/>
<path d="M1673.7,2090.4 A9.5,18.7 -29.7 0 1 1692.2,2122.9" stroke-width="2.6"/>
<path d="M1683.1,2085.0 A9.5,18.7 -29.7 0 1 1701.7,2117.5" stroke-width="2.6"/>
<path d="M1692.6,2079.6 A9.5,18.7 -29.7 0 1 1711.1,2112.1" stroke-width="2.6"/>
<path d="M1702.1,2074.2 A9.5,18.7 -29.7 0 1 1720.6,2106.7" stroke-width="2.6"/>
<path d="M1542.8,2161.6 L1548.0,2166.6 L1548.8,2172.0 L1556.9,2176.2 L1563.3,2189.5 L1566.1,2198.3" stroke-width="2"/>
<path d="M1561.1,2151.2 L1566.3,2156.2 L1567.0,2161.6 L1575.2,2165.8 L1581.6,2179.1 L1584.3,2187.9" stroke-width="2"/>
<path d="M1484.7,2247.7 L1484.7,2306.3" stroke-width="2.8"/><g stroke-width="2.6">
<path d="M577.7,2241.2 L608.3,2223.6 M583.6,2254.2 L653,2214.2"/>
<path d="M671.8,2188.3 L862.5,2079.7 L869.3,2083.1 L867.6,2086.5 L877.1,2085.9 M697.7,2189.4 L877.1,2085.9"/>
<path d="M874.4,2072.2 L880.5,2076.3 L877.8,2079.7 L884.6,2080.8 L993.6,2021.1 C998,2018 1003,2016 1007.3,2014.3 L1060.1,2000.7 L1063.5,1993.9 L1048.2,1990.4 L1003.9,2004.1 C995,2007 987,2010 980,2012.6 L874.4,2072.2"/>
<path d="M1012,2004 L1015,2012 M1018,2002 L1021,2010 M1024,2000 L1027,2008.5 M1030,1998.5 L1033,2007 M1036,1997 L1039,2005 M1042,1995 L1045,2003.5 M1048,1993.5 L1050.5,2002" stroke-width="1.6"/>
<path d="M548.2,2242.4 L560,2234.8 L565.9,2234.8 L581.2,2244.8 L583.6,2249.5 L583.6,2257.7 L578.8,2263 L568.3,2268.3 L548.2,2256.5 Z" fill="#fff"/>
<path d="M549.4,2245.9 L568.3,2256.5 L581.2,2247.1 M568.3,2256.5 L568.3,2268.3 M557,2239 L571,2247 M561,2237 L566,2246 M565,2238 L574,2243" stroke-width="1.8"/>
<path d="M600,2201.2 L657.7,2167.1 L682.4,2181.2 M600,2201.2 L603.6,2207.1 M605,2204.5 L657,2175 L666,2176 L671.8,2188.3"/>
<path d="M636.5,2200 L661.2,2185.9 L689.5,2203 L664.8,2217.7 Z"/>
<path d="M603.6,2207.1 C601,2210 600.6,2213 600.6,2215.3 C602,2218 605,2220 609.5,2222.4 M603.6,2207.1 L635.3,2200.6 M605.9,2214.2 L633,2207.1"/>
<path d="M697.7,2190 L723.6,2205.9 L724.2,2210.6 L717.8,2215.3 L669.5,2244.8 M680,2213 L720,2211 M690,2203 L722,2207"/>
<path d="M656.5,2215.3 L656.5,2242.4 M669.5,2216.5 L669.5,2244.8"/>
<path d="M625.9,2229.5 L648.3,2244.8 C651,2246 654,2246.5 656.5,2246.5 L668.3,2245.9"/>
</g>
<path d="M680.2,2247.7 L680.2,2305.7" stroke-width="2.8"/>
<path transform="translate(1191.0,1113.8)" d="M3.1,-25.2 C3.3,-31 7.5,-33.9 12.5,-33.9 C18,-33.9 22.1,-30 22.1,-25 C22.1,-21.5 20.5,-19.5 17,-16 L2.4,-1.9 L24,-1.9" stroke-width="3.8" stroke-linecap="butt" stroke-linejoin="miter" fill="none"/>
<path transform="translate(1044.1,1214.9)" d="M10.2,-35.8 L13.1,-35.8 L13.1,0 L9.1,0 L9.1,-28.3 L5.9,-25.4 L0,-23.4 L0,-26.9 Z" fill="#000" stroke="none"/>
<path transform="translate(1072.1,1214.9)" d="M10.2,-35.8 L13.1,-35.8 L13.1,0 L9.1,0 L9.1,-28.3 L5.9,-25.4 L0,-23.4 L0,-26.9 Z" fill="#000" stroke="none"/>
<path transform="translate(1321.1,1213.8)" d="M10.2,-35.8 L13.1,-35.8 L13.1,0 L9.1,0 L9.1,-28.3 L5.9,-25.4 L0,-23.4 L0,-26.9 Z" fill="#000" stroke="none"/>
<ellipse cx="1358.0" cy="1195.9" rx="10.15" ry="15.95" stroke-width="3.8" fill="none"/>
<path transform="translate(1645.0,1643.8)" d="M10.2,-35.8 L13.1,-35.8 L13.1,0 L9.1,0 L9.1,-28.3 L5.9,-25.4 L0,-23.4 L0,-26.9 Z" fill="#000" stroke="none"/>
<path transform="translate(656.9,2347.8)" d="M10.2,-35.8 L13.1,-35.8 L13.1,0 L9.1,0 L9.1,-28.3 L5.9,-25.4 L0,-23.4 L0,-26.9 Z" fill="#000" stroke="none"/>
<path transform="translate(684.9,2347.8)" d="M10.2,-35.8 L13.1,-35.8 L13.1,0 L9.1,0 L9.1,-28.3 L5.9,-25.4 L0,-23.4 L0,-26.9 Z" fill="#000" stroke="none"/>
<path transform="translate(1461.9,2352.8)" d="M10.2,-35.8 L13.1,-35.8 L13.1,0 L9.1,0 L9.1,-28.3 L5.9,-25.4 L0,-23.4 L0,-26.9 Z" fill="#000" stroke="none"/>
<path transform="translate(1485.9,2352.8)" d="M3.1,-25.2 C3.3,-31 7.5,-33.9 12.5,-33.9 C18,-33.9 22.1,-30 22.1,-25 C22.1,-21.5 20.5,-19.5 17,-16 L2.4,-1.9 L24,-1.9" stroke-width="3.8" stroke-linecap="butt" stroke-linejoin="miter" fill="none"/>
</g>
<rect x="0" y="2404" width="1817" height="181" fill="#666666" stroke="none"/>
<g font-family="Liberation Sans, sans-serif" font-size="74" fill="#fff" stroke="none"><text transform="translate(627.7,2527) scale(0.904,1)" x="0" y="0">V</text><text transform="translate(670.8,2527) scale(0.922,1)" x="0" y="0">A</text><text transform="translate(716.7,2527) scale(0.840,1)" x="0" y="0">G</text><text transform="translate(780.8,2527) scale(0.989,1)" x="0" y="0">-</text><text transform="translate(818.9,2527) scale(1.082,1)" x="0" y="0">7</text><text transform="translate(861.0,2527) scale(0.959,1)" x="0" y="0">P</text><text transform="translate(907.9,2527) scale(0.938,1)" x="0" y="0">6</text><text transform="translate(947.4,2527) scale(0.957,1)" x="0" y="0">9</text><text transform="translate(988.6,2527) scale(0.956,1)" x="0" y="0">6</text><text transform="translate(1026.5,2527) scale(1.070,1)" x="0" y="0">2</text><text transform="translate(1068.0,2527) scale(1.052,1)" x="0" y="0">2</text><text transform="translate(1110.0,2527) scale(0.920,1)" x="0" y="0">8</text><text transform="translate(1149.2,2527) scale(0.949,1)" x="0" y="0">3</text></g>
</svg>
</body></html>
